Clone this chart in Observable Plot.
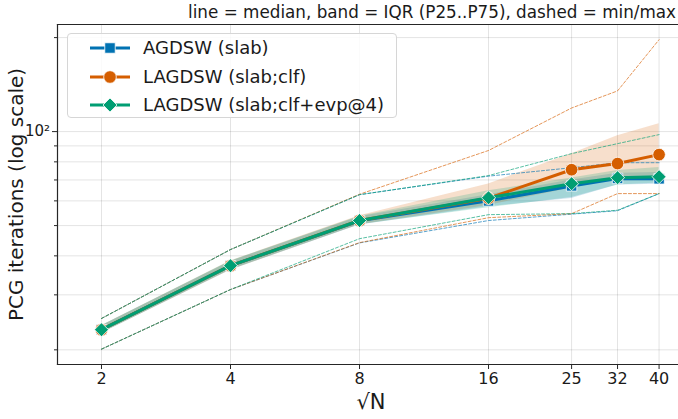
<!DOCTYPE html>
<html>
<head>
<meta charset="utf-8">
<script src="https://cdn.jsdelivr.net/npm/d3@7"></script>
<script src="https://cdn.jsdelivr.net/npm/@observablehq/plot@0.6"></script>
<style>
  html, body { margin: 0; padding: 0; background: #fff; overflow: hidden; }
  #fig { position: relative; width: 678px; height: 419px; font-family: "DejaVu Sans", sans-serif; color: #1a1a1a; }
  #title { height: 23px; width: 676px; text-align: right; font-size: 16.8px; line-height: 25px; white-space: nowrap; }
  #legend { position: absolute; left: 67px; top: 33px; width: 330px; height: 85px; box-sizing: border-box;
            border: 1px solid #d6d6d6; border-radius: 4px; background: rgba(255,255,255,0.85); }
  .row { position: absolute; left: 0; height: 28px; width: 100%; }
  .row svg { position: absolute; left: 21px; top: 0; }
  .row span { position: absolute; left: 75px; top: 0; line-height: 28px; font-size: 18px; white-space: nowrap; }
</style>
</head>
<body>
<div id="fig">
  <div id="title">line = median, band = IQR (P25..P75), dashed = min/max</div>
  <div id="chart"></div>
  <div id="legend"></div>
</div>
<script>
// sqrt(N) values on the x axis
const sqrtN = [2, 4, 8, 16, 25, 32, 40];

// series
const seriesNames = ["AGDSW (slab)", "LAGDSW (slab;clf)", "LAGDSW (slab;clf+evp@4)"];
const seriesColors = ["#0072B2", "#D55E00", "#009E73"];
const seriesSymbols = ["square", "circle", "diamond2"];

// AGDSW (slab)
const agdswMedian = [23.2, 37.2, 51.8, 60.0, 67.0, 70.8, 70.6];
const agdswP25    = [22.6, 36.0, 50.2, 57.5, 61.0, 67.5, 67.8];
const agdswP75    = [23.9, 38.4, 53.4, 62.8, 70.0, 73.5, 74.0];
const agdswMin    = [20.1, 31.2, 44.0, 51.9, 54.4, 55.8, 63.3];
const agdswMax    = [25.2, 41.9, 62.8, 72.0, 76.6, 79.5, 79.5];

// LAGDSW (slab;clf)
const clfMedian = [23.2, 37.2, 51.9, 61.2, 75.5, 79.0, 84.4];
const clfP25    = [22.6, 36.0, 50.3, 58.0, 66.0, 70.5, 72.0];
const clfP75    = [23.9, 38.5, 53.8, 68.0, 85.0, 97.0, 106.0];
const clfMin    = [20.1, 31.2, 44.1, 53.0, 54.6, 63.3, 63.3];
const clfMax    = [25.2, 41.9, 63.0, 87.0, 119.0, 135.0, 197.0];

// LAGDSW (slab;clf+evp@4)
const evpMedian = [23.2, 37.2, 51.9, 61.4, 68.1, 71.2, 71.7];
const evpP25    = [22.6, 36.1, 50.3, 57.0, 61.5, 67.5, 68.5];
const evpP75    = [23.9, 38.5, 53.6, 64.6, 71.0, 75.0, 76.7];
const evpMin    = [20.1, 31.2, 45.4, 54.2, 54.6, 56.0, 63.3];
const evpMax    = [25.2, 41.9, 62.8, 72.3, 85.0, 91.5, 97.8];

// y ticks: labelled major decade + unlabelled minor ticks
const yMajor = [100];
const yMinor = [20, 30, 40, 50, 60, 70, 80, 90, 200];

const stats = [
  [agdswMedian, agdswP25, agdswP75, agdswMin, agdswMax],
  [clfMedian, clfP25, clfP75, clfMin, clfMax],
  [evpMedian, evpP25, evpP75, evpMin, evpMax]
];
const series = stats.map(([med, p25, p75, mn, mx], i) =>
  sqrtN.map((n, j) => ({
    series: seriesNames[i], n,
    median: med[j], p25: p25[j], p75: p75[j], min: mn[j], max: mx[j]
  }))
);

const axisColor = "#262626";
const marks = [
  Plot.gridX(sqrtN, {stroke: "#000", strokeOpacity: 0.11, strokeWidth: 1}),
  Plot.gridY([...yMinor, ...yMajor], {stroke: "#000", strokeOpacity: 0.11, strokeWidth: 1})
];
// IQR bands
series.forEach((rows, i) => {
  marks.push(Plot.areaY(rows, {x: "n", y1: "p25", y2: "p75", fill: seriesColors[i], fillOpacity: 0.2}));
});
// min / max envelopes
series.forEach((rows, i) => {
  for (const key of ["min", "max"]) {
    marks.push(Plot.lineY(rows, {x: "n", y: key, stroke: seriesColors[i], strokeWidth: 1,
      strokeOpacity: 0.65, strokeDasharray: "3,2"}));
  }
});
// medians with markers
const markerR = [5.9, 6.3, 6.3];
series.forEach((rows, i) => {
  marks.push(Plot.lineY(rows, {x: "n", y: "median", stroke: seriesColors[i], strokeWidth: 3}));
  marks.push(Plot.dot(rows, {x: "n", y: "median", symbol: () => seriesSymbols[i], r: markerR[i],
    fill: seriesColors[i], stroke: "white", strokeWidth: 0.8}));
});
// axes and spines
marks.push(
  Plot.frame({anchor: "top", stroke: axisColor, strokeWidth: 1.2}),
  Plot.frame({anchor: "left", stroke: axisColor, strokeWidth: 1.2}),
  Plot.frame({anchor: "bottom", stroke: axisColor, strokeWidth: 1.2}),
  Plot.axisX(sqrtN, {tickSize: 5, tickPadding: 3.5, tickFormat: d => String(d), fontSize: 16,
    stroke: axisColor, label: null}),
  Plot.axisY(yMinor, {tickSize: 3, tickFormat: () => "", stroke: axisColor, label: null}),
  Plot.axisY(yMajor, {tickSize: 5, tickPadding: 2.5, tickFormat: () => "10²", fontSize: 15,
    stroke: axisColor, label: null, ariaLabel: "y-major"}),
  Plot.text(["PCG iterations (log scale)"], {frameAnchor: "left", rotate: -90, dx: -41,
    textAnchor: "middle", lineAnchor: "middle", fontSize: 20, fill: "#1a1a1a"}),
  Plot.text(["√N"], {frameAnchor: "bottom", dy: 44, dx: 3, textAnchor: "middle", fontSize: 21,
    fill: "#1a1a1a", ariaLabel: "x-label"})
);

const chart = Plot.plot({
  width: 678, height: 396,
  marginLeft: 57, marginRight: 0, marginTop: 1, marginBottom: 55,
  x: {type: "log", base: 2, domain: [1.579, 44.4]},
  y: {type: "log", domain: [17.95, 220.3]},
  style: {fontFamily: "DejaVu Sans, sans-serif", fontSize: "16px", color: "#1a1a1a", background: "white"},
  marks
});
document.getElementById("chart").appendChild(chart);

// math-style labels: 10 with a raised exponent, and √ over an italic N
d3.select(chart).selectAll("g[aria-label='y-major'] text").each(function () {
  const t = d3.select(this);
  t.text(null);
  t.append("tspan").text("10");
  t.append("tspan").attr("font-size", 10.5).attr("dy", "-0.6em").text("2");
});
const xl = d3.select(chart).select("g[aria-label='x-label'] text");
xl.text(null);
xl.append("tspan").text("√");
xl.append("tspan").style("font-style", "italic").style("text-decoration", "overline").text("N");

// legend
const legend = d3.select("#legend");
seriesNames.forEach((name, i) => {
  const row = legend.append("div").attr("class", "row").style("top", `${i * 28.5}px`);
  const s = row.append("svg").attr("width", 42).attr("height", 28);
  s.append("line").attr("x1", 1).attr("x2", 41).attr("y1", 14).attr("y2", 14)
    .attr("stroke", seriesColors[i]).attr("stroke-width", 3);
  const sym = {square: d3.symbolSquare, circle: d3.symbolCircle, diamond2: d3.symbolDiamond2}[seriesSymbols[i]];
  s.append("path").attr("transform", "translate(21,14)")
    .attr("d", d3.symbol(sym, Math.PI * markerR[i] * markerR[i])())
    .attr("fill", seriesColors[i]).attr("stroke", "white").attr("stroke-width", 0.8);
  row.append("span").text(name);
});
</script>
</body>
</html>
